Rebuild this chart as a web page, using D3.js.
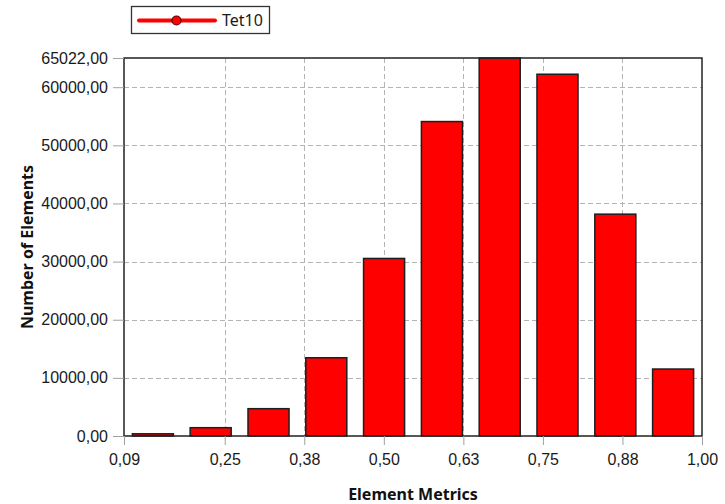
<!DOCTYPE html>
<head><meta charset="utf-8"/></head>
<style>
body { margin: 0; background: white; }
svg { font-family: "Noto Sans", "Open Sans", sans-serif; }
.grid line { stroke: #b4b4b4; stroke-dasharray: 5,3; }
.axis text { font-size: 16px; fill: #1a1a1a; }
.axis line { stroke: #a0a0a0; }
.axis path { display: none; }
.bar { fill: #ff0000; stroke: #1e1e1e; stroke-width: 1.5; }
.title { font-size: 16px; font-weight: bold; fill: #111; }
</style>
<script src="https://d3js.org/d3.v7.min.js"></script>
<body>
<div id="chart"></div>
</body>
<script>

// histogram of element quality, 10 bins between xMin and 1.0
var binCenters = [0.1371, 0.2279, 0.3188, 0.4096, 0.5004, 0.5913, 0.6821, 0.7729, 0.8638, 0.9546];
var counts = [380, 1430, 4700, 13460, 30540, 54090, 65022, 62230, 38160, 11520];

var xTickValues = [0.0917, 0.25, 0.375, 0.5, 0.625, 0.75, 0.875, 1.0];
var xTickLabels = ["0,09", "0,25", "0,38", "0,50", "0,63", "0,75", "0,88", "1,00"];
var yTickValues = [0, 10000, 20000, 30000, 40000, 50000, 60000, 65022];
var yTickLabels = ["0,00", "10000,00", "20000,00", "30000,00", "40000,00", "50000,00", "60000,00", "65022,00"];

var seriesName = "Tet10";
var binWidth = 0.09083;

var margin = {top: 58, left: 124, right: 23, bottom: 68},
    width = 725 - margin.left - margin.right,
    height = 504 - margin.top - margin.bottom;

var svg = d3.select("#chart")
    .append("svg")
    .attr("width", 725)
    .attr("height", 504);

var g = svg.append("g")
    .attr("transform", "translate(" + margin.left + "," + margin.top + ")");

var x = d3.scaleLinear()
    .domain([xTickValues[0], 1.0])
    .range([0, width]);

var y = d3.scaleLinear()
    .domain([0, yTickValues[yTickValues.length - 1]])
    .range([height, 0]);

// dashed grid, behind the bars
g.append("g")
    .attr("class", "grid")
    .selectAll("line.h")
    .data(yTickValues.slice(1, -1))
    .enter().append("line")
    .attr("x1", 0).attr("x2", width)
    .attr("y1", function(d) { return Math.round(y(d)) + 0.5; })
    .attr("y2", function(d) { return Math.round(y(d)) + 0.5; });

g.select(".grid")
    .selectAll("line.v")
    .data(xTickValues.slice(1, -1))
    .enter().append("line")
    .attr("y1", 0).attr("y2", height)
    .attr("x1", function(d) { return Math.round(x(d)) + 0.5; })
    .attr("x2", function(d) { return Math.round(x(d)) + 0.5; });

// bars
var barW = (x(xTickValues[0] + binWidth) - x(xTickValues[0])) * 0.71;

g.append("g")
    .selectAll(".bar")
    .data(counts)
    .enter().append("rect")
    .attr("class", "bar")
    .attr("x", function(d, i) { return x(binCenters[i]) - barW / 2; })
    .attr("width", barW)
    .attr("y", function(d) { return y(d); })
    .attr("height", function(d) { return height - y(d); });

// plot frame
g.append("rect")
    .attr("x", 0).attr("y", 0)
    .attr("width", width).attr("height", height)
    .style("fill", "none")
    .style("stroke", "#222")
    .style("stroke-width", 1.5);

// axes
g.append("g")
    .attr("class", "axis")
    .call(d3.axisLeft(y)
        .tickValues(yTickValues)
        .tickSizeInner(11)
        .tickSizeOuter(0)
        .tickPadding(5)
        .tickFormat(function(d, i) { return yTickLabels[i]; }));

g.append("g")
    .attr("class", "axis")
    .attr("transform", "translate(0," + height + ")")
    .call(d3.axisBottom(x)
        .tickValues(xTickValues)
        .tickSizeInner(9)
        .tickSizeOuter(0)
        .tickPadding(9)
        .tickFormat(function(d, i) { return xTickLabels[i]; }));

// axis titles
svg.append("text")
    .attr("class", "title")
    .attr("text-anchor", "middle")
    .attr("x", margin.left + width / 2)
    .attr("y", 500)
    .text("Element Metrics");

svg.append("text")
    .attr("class", "title")
    .attr("text-anchor", "middle")
    .attr("transform", "translate(33," + (margin.top + height / 2) + ") rotate(-90)")
    .text("Number of Elements");

// legend
var legend = svg.append("g");

legend.append("rect")
    .attr("x", 131.5).attr("y", 6.5)
    .attr("width", 138).attr("height", 27)
    .style("fill", "white")
    .style("stroke", "#333")
    .style("stroke-width", 1.3);

legend.append("line")
    .attr("x1", 139).attr("x2", 215)
    .attr("y1", 20.5).attr("y2", 20.5)
    .style("stroke", "#ff0000")
    .style("stroke-width", 4)
    .style("stroke-linecap", "round");

legend.append("circle")
    .attr("cx", 176.5).attr("cy", 20.5)
    .attr("r", 4.5)
    .style("fill", "#ff0000")
    .style("stroke", "#5a0000")
    .style("stroke-width", 1.2);

legend.append("text")
    .attr("x", 222).attr("y", 26)
    .style("font-size", "16px")
    .style("fill", "#1a1a1a")
    .text(seriesName);

</script>
